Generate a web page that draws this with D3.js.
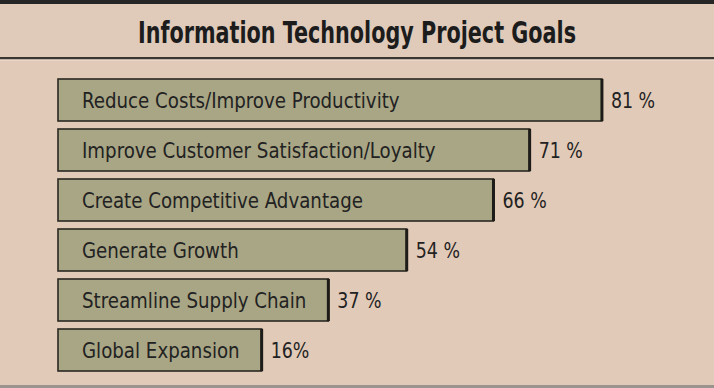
<!DOCTYPE html>
<html><head><meta charset="utf-8">
<script src="https://cdn.jsdelivr.net/npm/d3@7"></script>
<style>
html,body{margin:0;padding:0;background:#e2cab8;}
svg{display:block;}
text{font-family:"Liberation Sans Narrow","DejaVu Sans Condensed","Arial Narrow",sans-serif;}
</style></head><body>
<script>
const title = "Information Technology Project Goals";
const categories = ["Reduce Costs/Improve Productivity","Improve Customer Satisfaction/Loyalty","Create Competitive Advantage","Generate Growth","Streamline Supply Chain","Global Expansion"];
const values = [81, 71, 66, 54, 37, 16];
const valueLabels = ["81 %","71 %","66 %","54 %","37 %","16%"];

const W = 714, H = 388;
const svg = d3.select("body").append("svg").attr("width", W).attr("height", H);

svg.append("rect").attr("width", W).attr("height", H).attr("fill", "#e2cab8");
svg.append("rect").attr("x",0).attr("y",0).attr("width",W).attr("height",4).attr("fill","#262626");
svg.append("rect").attr("x",0).attr("y",4).attr("width",W).attr("height",54).attr("fill","#e0cbba");
svg.append("rect").attr("x",0).attr("y",57).attr("width",W).attr("height",2.5).attr("fill","#3a3632");
svg.append("rect").attr("x",0).attr("y",59.5).attr("width",W).attr("height",1).attr("fill","#f0e2d6");
svg.append("rect").attr("x",0).attr("y",385).attr("width",W).attr("height",3).attr("fill","#9a938e");

svg.append("text").attr("x", 357).attr("y", 43).attr("text-anchor","middle")
  .attr("font-size", 30).attr("font-weight","bold").attr("fill","#1c1c1c")
  .attr("textLength", 438).attr("lengthAdjust","spacingAndGlyphs")
  .text(title);

const left = 58;
const squeeze = 0.92;
const x = d3.scaleLinear().domain([0, 100]).range([16.3, 739.3]);
const y = d3.scaleBand().domain(categories).range([75, 375]).paddingInner(0.16).paddingOuter(0.08);

const g = svg.append("g");
const rows = g.selectAll("g.row").data(categories.map((c,i)=>({c, v:values[i], lab:valueLabels[i]})))
  .enter().append("g").attr("class","row");

rows.append("text").attr("class","cat").attr("x", left + 24)
  .attr("y", d => y(d.c) + y.bandwidth()/2 + 8)
  .attr("font-size", 22).attr("fill","#222")
  .text(d => d.c);

rows.each(function(d){
  const t = d3.select(this).select("text.cat");
  const tw = t.node().getComputedTextLength() * squeeze;
  t.attr("textLength", tw).attr("lengthAdjust","spacingAndGlyphs");
  d.w = Math.max(x(d.v) - left, tw + 46);
});

rows.insert("rect","text").attr("x", left).attr("y", d => y(d.c))
  .attr("width", d => d.w).attr("height", y.bandwidth())
  .attr("fill", "#a9a685").attr("stroke", "#2a2822").attr("stroke-width", 1.6);
rows.insert("rect","text").attr("x", d => left + d.w - 1.5).attr("y", d => y(d.c))
  .attr("width", 3).attr("height", y.bandwidth()).attr("fill","#1e1c18");

rows.append("text").attr("class","val").attr("x", d => left + d.w + 9)
  .attr("y", d => y(d.c) + y.bandwidth()/2 + 8)
  .attr("font-size", 22).attr("fill","#222")
  .text(d => d.lab)
  .each(function(){
    const tw = this.getComputedTextLength() * 0.88;
    d3.select(this).attr("textLength", tw).attr("lengthAdjust","spacingAndGlyphs");
  });
</script>
</body></html>
